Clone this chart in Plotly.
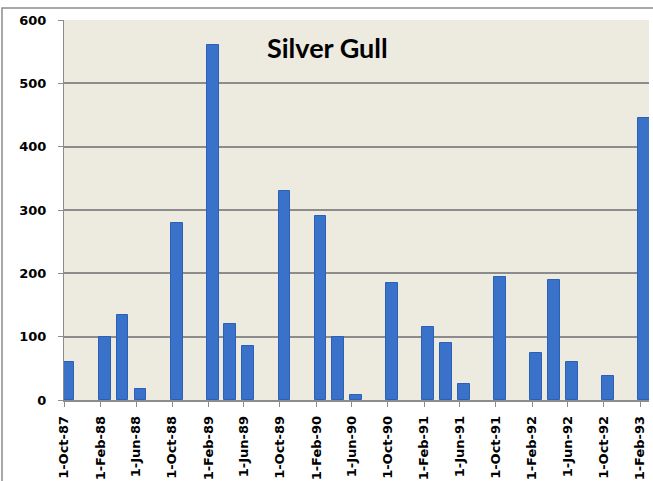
import pandas as pd
import plotly.graph_objects as go

dates = ["1987-10-01", "1988-02-01", "1988-04-01", "1988-06-01", "1988-10-01",
         "1989-02-01", "1989-04-01", "1989-06-01", "1989-10-01", "1990-02-01",
         "1990-04-01", "1990-06-01", "1990-10-01", "1991-02-01", "1991-04-01",
         "1991-06-01", "1991-10-01", "1992-02-01", "1992-04-01", "1992-06-01",
         "1992-10-01", "1993-02-01"]
counts = [60, 100, 135, 17, 280, 560, 120, 85, 330, 290, 100, 8, 185, 115, 90,
          25, 195, 75, 190, 60, 38, 445]
tick_dates = pd.date_range("1987-10-01", "1993-02-01", freq="4MS")
tick_labels = [f"{d.day}-{d.strftime('%b')}-{d.strftime('%y')}" for d in tick_dates]
y_ticks = [0, 100, 200, 300, 400, 500, 600]

fig = go.Figure()
fig.add_trace(go.Bar(
    x=pd.to_datetime(dates), y=counts,
    xperiod="M1", xperiodalignment="middle",
    width=40 * 24 * 3600 * 1000,
    marker=dict(color="#3A71C9", line=dict(color="#2C5FB8", width=1)),
))

fig.update_layout(
    width=653, height=481,
    margin=dict(l=64, r=4, t=20, b=81, autoexpand=False),
    paper_bgcolor="white", plot_bgcolor="#EDEAE0",
    showlegend=False,
    bargap=0,
    font=dict(family="DejaVu Sans", size=13, color="black"),
    xaxis=dict(
        type="date", automargin=False,
        range=["1987-10-01", "1993-03-03"],
        tickvals=tick_dates, ticktext=tick_labels,
        tickangle=-90,
        tickfont=dict(family="DejaVu Sans", size=13, weight="bold"),
        ticks="outside", ticklen=5, tickcolor="#8c8c8c",
        ticklabelstandoff=4,
        showgrid=False, showline=True, linecolor="#8c8c8c", linewidth=1.5,
        zeroline=False,
    ),
    yaxis=dict(
        range=[0, 600], automargin=False,
        tickvals=y_ticks,
        tickfont=dict(family="DejaVu Sans", size=13, weight="bold"),
        ticks="outside", ticklen=5, tickcolor="#8c8c8c",
        ticklabelstandoff=9,
        showgrid=True, gridcolor="#8c8c8c", gridwidth=1.5,
        showline=True, linecolor="#8c8c8c", linewidth=1,
        zeroline=False,
    ),
    annotations=[dict(
        text="<b>Silver Gull</b>", x=0.451, y=0.928, xref="paper", yref="paper",
        xanchor="center", yanchor="middle",
        showarrow=False, font=dict(family="Lato", size=27, color="black"),
    )],
    shapes=[dict(
        type="rect", xref="paper", yref="paper",
        x0=-0.106, x1=1.2, y0=-0.5, y1=1.0316,
        line=dict(color="#8c8c8c", width=1.5), fillcolor="rgba(0,0,0,0)",
    )],
)

fig.write_html(
    "out.html",
    config={"displayModeBar": False},
    post_script="document.body.style.margin='0';document.body.style.overflow='hidden';",
)
